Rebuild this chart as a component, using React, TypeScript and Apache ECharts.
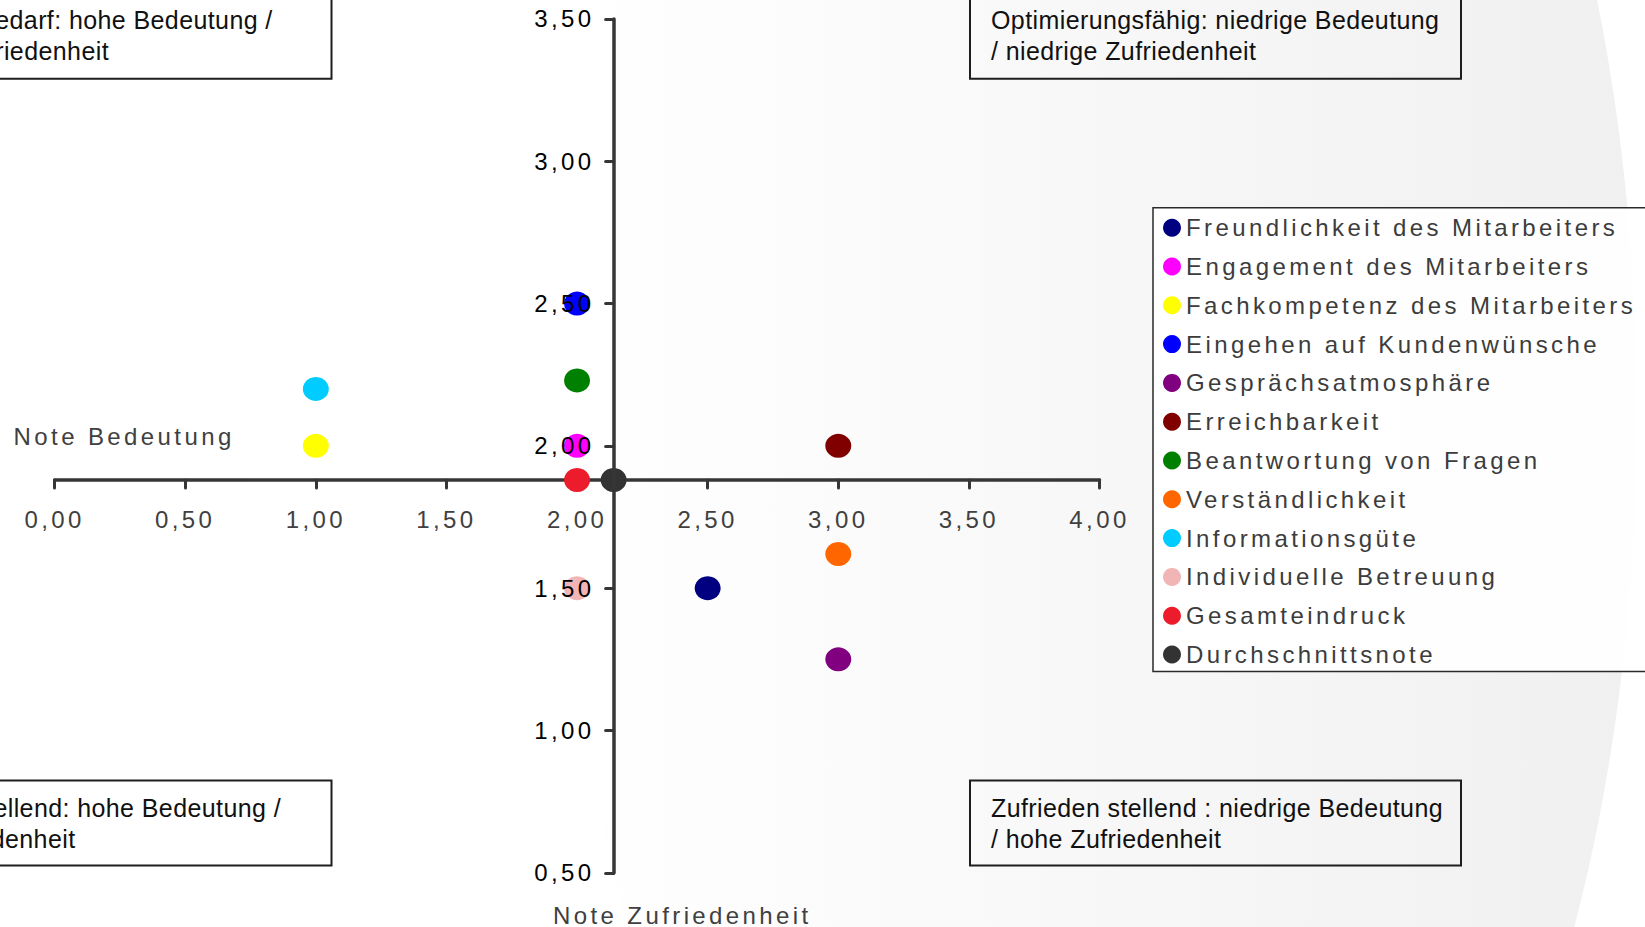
import React, { useEffect, useRef } from "react";
import * as echarts from "echarts";

// Portfolio of customer-survey items: importance grade (x) vs. satisfaction grade (y)
const categories = [
  "Freundlichkeit des Mitarbeiters",
  "Engagement des Mitarbeiters",
  "Fachkompetenz des Mitarbeiters",
  "Eingehen auf Kundenwünsche",
  "Gesprächsatmosphäre",
  "Erreichbarkeit",
  "Beantwortung von Fragen",
  "Verständlichkeit",
  "Informationsgüte",
  "Individuelle Betreuung",
  "Gesamteindruck",
  "Durchschnittsnote",
];
const noteBedeutung = [2.5, 2.0, 1.0, 2.0, 3.0, 3.0, 2.0, 3.0, 1.0, 2.0, 2.0, 2.14];
const noteZufriedenheit = [1.5, 2.0, 2.0, 2.5, 1.25, 2.0, 2.23, 1.62, 2.2, 1.5, 1.88, 1.88];
const pointColors = [
  "#000080",
  "#ff00ff",
  "#ffff00",
  "#0000ff",
  "#800080",
  "#800000",
  "#008000",
  "#ff6600",
  "#00ccff",
  "#f2b5b5",
  "#ed1c2c",
  "#333333",
];
const AVERAGE_INDEX = 11;

// axis ranges
const X_MIN = 0;
const X_MAX = 4;
const Y_MIN = 0.5;
const Y_MAX = 3.5;
const TICK_STEP = 0.5;

// quadrant captions
const quadrantTopRight = "Optimierungsfähig: niedrige Bedeutung\n/ niedrige Zufriedenheit";
const quadrantBottomRight = "Zufrieden stellend : niedrige Bedeutung\n/ hohe Zufriedenheit";
const quadrantTopLeft = ["Handlungsbedarf: hohe Bedeutung /", "niedrige Zufriedenheit"];
const quadrantBottomLeft = ["Zufrieden stellend: hohe Bedeutung /", "hohe Zufriedenheit"];

const W = 1645;
const H = 927;
const PLOT_LEFT = 54.6;
const PLOT_TOP = 18.9;
const PLOT_W = 1044.9;
const PLOT_H = 853.9;

// wide-tracked labels vs. tight caption text (tracking is set in the stylesheet below)
const LABEL_FONT = "'Liberation Sans', Arial, sans-serif";
const BOX_FONT = "Arimo, 'Liberation Sans', sans-serif";
const AXIS_COLOR = "#363636";

const fmt = (v: number) => v.toFixed(2).replace(".", ",");

function buildOption() {
  const avgX = noteBedeutung[AVERAGE_INDEX];
  const avgY = noteZufriedenheit[AVERAGE_INDEX];
  // the two axes cross at the average grade
  const crossY = PLOT_TOP + ((Y_MAX - avgY) / (Y_MAX - Y_MIN)) * PLOT_H;
  const crossX = PLOT_LEFT + ((avgX - X_MIN) / (X_MAX - X_MIN)) * PLOT_W;

  const axisLine = {
    show: true,
    onZero: false,
    lineStyle: { color: AXIS_COLOR, width: 3.5, cap: "round" },
  };
  const axisTick = {
    show: true,
    inside: false,
    length: 8,
    lineStyle: { color: AXIS_COLOR, width: 3, cap: "round" },
  };

  const series = categories.map((name, i) => ({
    type: "scatter",
    name,
    xAxisIndex: 0,
    yAxisIndex: 0,
    data: [[noteBedeutung[i], noteZufriedenheit[i]]],
    symbol: "circle",
    symbolSize: [26, 24],
    itemStyle: { color: pointColors[i], opacity: 1 },
    emphasis: { disabled: true },
    z: 3,
  }));

  const boxStroke = { fill: "none", stroke: "#1e1e1e", lineWidth: 2 };
  const boxText = { fontSize: 25, fontFamily: BOX_FONT, fill: "#111111" };

  return {
    animation: false,
    backgroundColor: "#ffffff",
    textStyle: { fontFamily: LABEL_FONT },
    grid: [
      { left: PLOT_LEFT, top: PLOT_TOP, width: PLOT_W, height: PLOT_H, containLabel: false, outerBoundsMode: "none" },
      { left: PLOT_LEFT, top: PLOT_TOP, width: PLOT_W, height: crossY - PLOT_TOP, containLabel: false, outerBoundsMode: "none" },
      { left: crossX, top: PLOT_TOP, width: PLOT_LEFT + PLOT_W - crossX, height: PLOT_H, containLabel: false, outerBoundsMode: "none" },
    ],
    xAxis: [
      { gridIndex: 0, type: "value", min: X_MIN, max: X_MAX, show: false },
      {
        gridIndex: 1,
        type: "value",
        min: X_MIN,
        max: X_MAX,
        interval: TICK_STEP,
        position: "bottom",
        z: 1,
        axisLine,
        axisTick,
        axisLabel: { show: true, margin: 27, formatter: fmt, color: "#404040", fontSize: 24, fontFamily: LABEL_FONT },
        splitLine: { show: false },
      },
      { gridIndex: 2, type: "value", min: 0, max: 1, show: false },
    ],
    yAxis: [
      { gridIndex: 0, type: "value", min: Y_MIN, max: Y_MAX, show: false },
      { gridIndex: 1, type: "value", min: 0, max: 1, show: false },
      {
        gridIndex: 2,
        type: "value",
        min: Y_MIN,
        max: Y_MAX,
        interval: TICK_STEP,
        position: "left",
        z: 10,
        axisLine,
        axisTick,
        axisLabel: { show: true, margin: 19, formatter: fmt, color: "#000000", fontSize: 24, fontFamily: LABEL_FONT },
        splitLine: { show: false },
      },
    ],
    legend: {
      orient: "vertical",
      left: 1153,
      top: 207.7,
      padding: [8, 320, 5, 10],
      itemWidth: 18,
      itemHeight: 18,
      itemGap: 14.8,
      icon: "circle",
      selectedMode: false,
      backgroundColor: "rgba(255,255,255,0.92)",
      borderColor: "#2a2a2a",
      borderWidth: 1.5,
      textStyle: { fontSize: 24, color: "#3c3c3c", fontFamily: LABEL_FONT },
      data: categories,
    },
    graphic: [
      // soft grey swoosh behind the plot
      {
        type: "ellipse",
        silent: true,
        z: -20,
        shape: { cx: 1100, cy: 414, rx: 537, ry: 1093 },
        style: {
          fill: new echarts.graphic.LinearGradient(0, 0, 1, 0, [
            { offset: 0, color: "rgba(240,240,240,0)" },
            { offset: 0.5, color: "rgba(240,240,240,0.5)" },
            { offset: 1, color: "rgba(240,240,240,1)" },
          ]),
        },
      },
      // quadrant captions
      { type: "rect", silent: true, z: 1, shape: { x: 970, y: -7, width: 491, height: 85.7 }, style: boxStroke },
      {
        type: "text",
        silent: true,
        z: 1,
        style: { ...boxText, text: quadrantTopRight, x: 991, y: 4.3, lineHeight: 31.4, textAlign: "left", textVerticalAlign: "top" },
      },
      { type: "rect", silent: true, z: 1, shape: { x: 970, y: 780.5, width: 491, height: 85 }, style: boxStroke },
      {
        type: "text",
        silent: true,
        z: 1,
        style: { ...boxText, text: quadrantBottomRight, x: 991, y: 792, lineHeight: 31.4, textAlign: "left", textVerticalAlign: "top" },
      },
      { type: "rect", silent: true, z: 1, shape: { x: -10, y: -7, width: 341.5, height: 85.7 }, style: boxStroke },
      {
        type: "text",
        silent: true,
        z: 1,
        style: { ...boxText, text: quadrantTopLeft[0], x: 272.7, y: 20, textAlign: "right", textVerticalAlign: "middle" },
      },
      {
        type: "text",
        silent: true,
        z: 1,
        style: { ...boxText, text: quadrantTopLeft[1], x: 109, y: 51.4, textAlign: "right", textVerticalAlign: "middle" },
      },
      { type: "rect", silent: true, z: 1, shape: { x: -10, y: 780.5, width: 341.5, height: 85 }, style: boxStroke },
      {
        type: "text",
        silent: true,
        z: 1,
        style: { ...boxText, text: quadrantBottomLeft[0], x: 281, y: 807.7, textAlign: "right", textVerticalAlign: "middle" },
      },
      {
        type: "text",
        silent: true,
        z: 1,
        style: { ...boxText, text: quadrantBottomLeft[1], x: 75.5, y: 839, textAlign: "right", textVerticalAlign: "middle" },
      },
      // axis titles
      {
        type: "text",
        silent: true,
        z: 1,
        style: { text: "Note Bedeutung", x: 13.6, y: 436, fontSize: 24, fontFamily: LABEL_FONT, fill: "#404040", textAlign: "left", textVerticalAlign: "middle" },
      },
      {
        type: "text",
        silent: true,
        z: 1,
        style: { text: "Note Zufriedenheit", x: 553, y: 915, fontSize: 24, fontFamily: LABEL_FONT, fill: "#404040", textAlign: "left", textVerticalAlign: "middle" },
      },
    ],
    series,
  };
}

export default function App() {
  const ref = useRef<HTMLDivElement>(null);

  useEffect(() => {
    if (!ref.current) return;
    const chart = echarts.init(ref.current, null, { renderer: "svg", width: W, height: H });
    chart.setOption(buildOption() as any);
    return () => chart.dispose();
  }, []);

  return (
    <>
      <style>{`
        .portfolio-chart text { letter-spacing: 3.4px; }
        .portfolio-chart text[style*="Arimo"], .portfolio-chart text[font-family*="Arimo"] { letter-spacing: 0.4px; }
      `}</style>
      <div
        ref={ref}
        className="portfolio-chart"
        style={{ position: "fixed", left: 0, top: 0, width: W, height: H, overflow: "hidden" }}
      />
    </>
  );
}
